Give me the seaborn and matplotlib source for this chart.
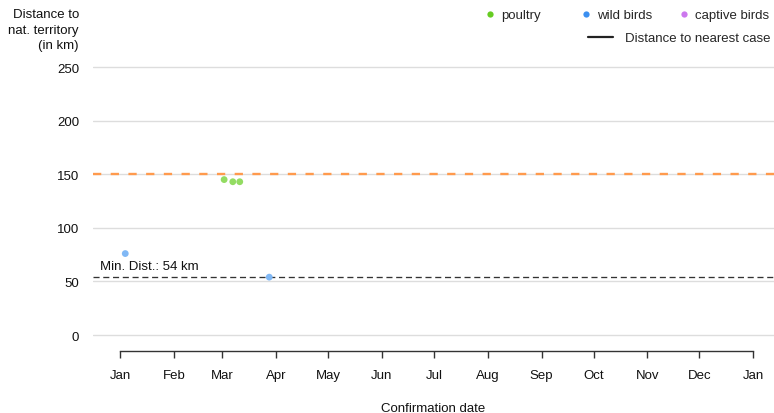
import pandas as pd
import matplotlib
matplotlib.use("Agg")
import matplotlib.pyplot as plt
import matplotlib.dates as mdates
from matplotlib.lines import Line2D
import seaborn as sns

# data
dates = ["2023-01-04", "2023-03-02", "2023-03-07", "2023-03-11", "2023-03-28"]
distances = [76, 145, 143, 143, 54]
species = ["wild birds", "poultry", "poultry", "poultry", "wild birds"]
categories = ["poultry", "wild birds", "captive birds"]
min_dist = 54
threshold = 150
y_ticks = [0, 50, 100, 150, 200, 250]

legend_colors = {"poultry": "#66cc22", "wild birds": "#3b8ff0", "captive birds": "#cc77ee"}
point_colors = {"poultry": "#93dc62", "wild birds": "#80b8f5", "captive birds": "#dba0f3"}

df = pd.DataFrame({"date": pd.to_datetime(dates), "distance": distances, "species": species})

sns.set_style("white")
plt.rcParams["font.family"] = ["Liberation Sans", "DejaVu Sans"]
plt.rcParams["font.size"] = 9.5
txt = "#111111"

W, H = 774, 414
fig = plt.figure(figsize=(W / 100, H / 100), dpi=100)
ax = fig.add_axes([93 / W, 62 / H, 1 - 93 / W, (352 - 66) / H])

start = pd.Timestamp("2023-01-01")
end = pd.Timestamp("2024-01-01")
ax.set_xlim(start - pd.Timedelta(days=15.6), end + pd.Timedelta(days=12))
ax.set_ylim(-14.9, 251.9)

for v in y_ticks:
    ax.axhline(v, color="#dddddd", lw=1, zorder=0)
ax.axhline(threshold, color="#ff9a4d", lw=1.7, dashes=(3.5, 4), zorder=1)
ax.axhline(min_dist, color="#333333", lw=0.95, dashes=(4.6, 2.8), zorder=1)
ax.text(start - pd.Timedelta(days=11.5), min_dist + 5, f"Min. Dist.: {min_dist} km",
        color=txt, va="bottom", ha="left")

sns.scatterplot(data=df, x="date", y="distance", hue="species", hue_order=categories,
                palette=point_colors, s=24, edgecolor="none", legend=False, ax=ax, zorder=3)

ax.set_yticks(y_ticks)
ax.tick_params(axis="y", length=0, pad=10, labelcolor=txt)
ax.xaxis.set_major_locator(mdates.MonthLocator())
ax.xaxis.set_major_formatter(mdates.DateFormatter("%b"))
ax.tick_params(axis="x", direction="out", length=5, width=1, color="#333333",
               pad=8, labelcolor=txt, bottom=True)
for side in ["top", "right", "left"]:
    ax.spines[side].set_visible(False)
ax.spines["bottom"].set_color("#333333")
ax.spines["bottom"].set_linewidth(1)
ax.spines["bottom"].set_bounds(mdates.date2num(start), mdates.date2num(end))
ax.set_xlabel("Confirmation date", labelpad=15, color=txt)
ax.set_ylabel("")

fig.text(79 / W, 1 - 9 / H, "Distance to\nnat. territory\n(in km)", ha="right", va="top",
         linespacing=1.4, color=txt)

# legend: one entry per category at fixed positions
legend_x = [484.5, 580.5, 678.5]
for c, lx in zip(categories, legend_x):
    h = Line2D([], [], ls="none", marker="o", markersize=4.5, markeredgewidth=0,
               color=legend_colors[c])
    fig.legend([h], [c], loc="upper left", bbox_to_anchor=(lx / W, 1 - 10 / H),
               frameon=False, handlelength=0.8, handletextpad=0.43,
               borderpad=0, borderaxespad=0)
line_handle = Line2D([], [], color="#222222", lw=1.6)
fig.legend([line_handle], ["Distance to nearest case"], loc="upper left",
           bbox_to_anchor=(588 / W, 1 - 33 / H), frameon=False, handlelength=1.9,
           handletextpad=0.9, borderpad=0, borderaxespad=0)

fig.savefig("out.png", dpi=100)
